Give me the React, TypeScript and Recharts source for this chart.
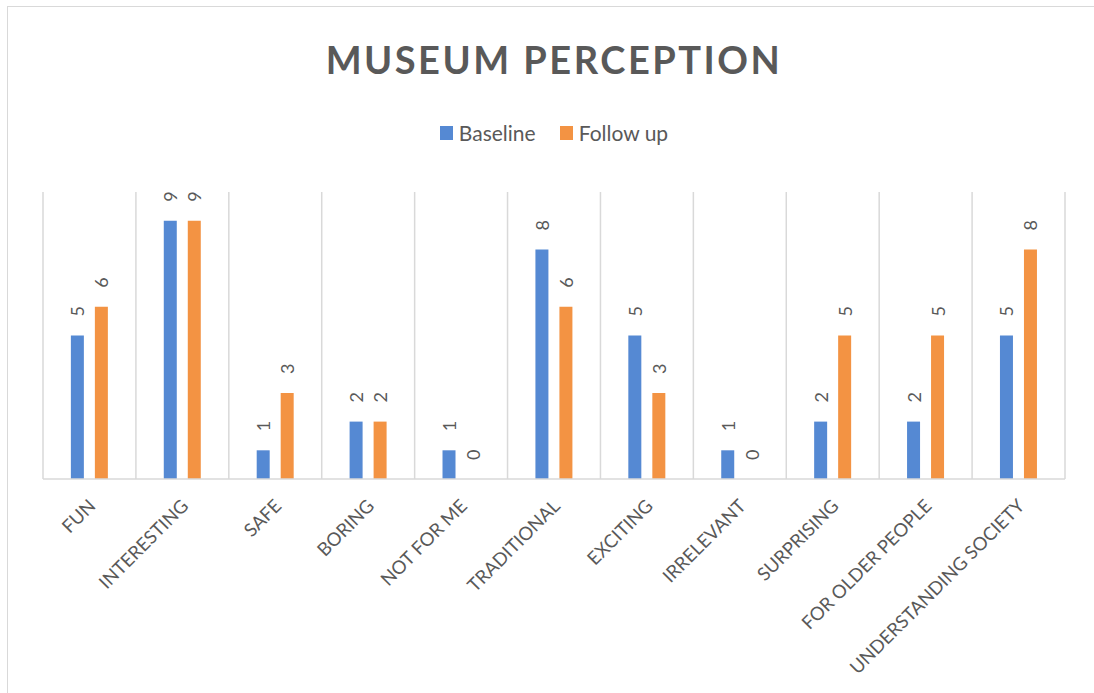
import React from "react";
import { BarChart, Bar, XAxis, YAxis, CartesianGrid, Legend } from "recharts";

const categories = [
  "FUN",
  "INTERESTING",
  "SAFE",
  "BORING",
  "NOT FOR ME",
  "TRADITIONAL",
  "EXCITING",
  "IRRELEVANT",
  "SURPRISING",
  "FOR OLDER PEOPLE",
  "UNDERSTANDING SOCIETY",
];
const baseline = [5, 9, 1, 2, 1, 8, 5, 1, 2, 2, 5];
const followUp = [6, 9, 3, 2, 0, 6, 3, 0, 5, 5, 8];

const data = categories.map((c, i) => ({ name: c, baseline: baseline[i], followUp: followUp[i] }));

const BLUE = "#5589d3";
const ORANGE = "#f39343";
const TEXT = "#595959";
const FONT = "Lato, 'Open Sans', sans-serif";

const ValueLabel = (props: any) => {
  const { x, y, width, value } = props;
  const cx = Number(x) + Number(width) / 2;
  const cy = Number(y) - 19;
  return (
    <text
      x={cx}
      y={cy}
      transform={`rotate(-90, ${cx}, ${cy})`}
      textAnchor="start"
      dominantBaseline="central"
      fill={TEXT}
      fontSize={18}
      fontFamily={FONT}
    >
      {String(value)}
    </text>
  );
};

const CatTick = (props: any) => {
  const { x, y, payload } = props;
  return (
    <g transform={`translate(${x - 3},${y + 10})`}>
      <text
        x={0}
        y={0}
        transform="rotate(-45)"
        textAnchor="end"
        dominantBaseline="hanging"
        fill={TEXT}
        fontSize={18.5}
        fontFamily={FONT}
      >
        {payload.value}
      </text>
    </g>
  );
};

const LegendContent = () => (
  <div
    style={{
      display: "flex",
      justifyContent: "center",
      alignItems: "center",
      fontFamily: FONT,
      fontSize: 21,
      color: TEXT,
    }}
  >
    <span style={{ display: "inline-flex", alignItems: "center", marginRight: 24 }}>
      <span style={{ width: 13, height: 14, background: BLUE, display: "inline-block", marginRight: 6 }} />
      Baseline
    </span>
    <span style={{ display: "inline-flex", alignItems: "center" }}>
      <span style={{ width: 13, height: 14, background: ORANGE, display: "inline-block", marginRight: 6 }} />
      Follow up
    </span>
  </div>
);

const gridGenerator = ({ offset }: any) =>
  categories.concat([""]).map((_, i) => offset.left + (i * offset.width) / categories.length);

export default function App() {
  return (
    <div
      style={{
        position: "fixed",
        left: 0,
        top: 0,
        width: 1094,
        height: 693,
        overflow: "hidden",
        background: "#fff",
      }}
    >
      <div
        style={{
          position: "absolute",
          left: 7,
          top: 6,
          width: 1200,
          height: 800,
          border: "1.5px solid #d9d9d9",
        }}
      />
      <div
        style={{
          position: "absolute",
          left: 0,
          top: 36,
          width: 1108,
          textAlign: "center",
          fontFamily: FONT,
          fontWeight: 700,
          fontSize: 38,
          letterSpacing: 2.5,
          color: TEXT,
        }}
      >
        MUSEUM PERCEPTION
      </div>
      <div style={{ position: "absolute", left: 0, top: 0 }}>
        <BarChart
          width={1094}
          height={693}
          data={data}
          margin={{ top: 192, right: 29, bottom: 14, left: 43 }}
          barCategoryGap="30%"
          barGap={11}
        >
          <CartesianGrid
            horizontal={false}
            vertical={true}
            verticalCoordinatesGenerator={gridGenerator}
            stroke="#d9d9d9"
            strokeWidth={1.5}
          />
          <XAxis
            dataKey="name"
            type="category"
            interval={0}
            height={200}
            axisLine={{ stroke: "#d9d9d9", strokeWidth: 1.5 }}
            tickLine={false}
            tick={<CatTick />}
          />
          <YAxis domain={[0, 10]} hide />
          <Legend
            verticalAlign="middle"
            align="center"
            wrapperStyle={{ top: 120, left: 0, width: 1108 }}
            content={<LegendContent />}
          />
          <Bar
            dataKey="baseline"
            name="Baseline"
            fill={BLUE}
            minPointSize={0.01}
            isAnimationActive={false}
            label={<ValueLabel />}
          />
          <Bar
            dataKey="followUp"
            name="Follow up"
            fill={ORANGE}
            minPointSize={0.01}
            isAnimationActive={false}
            label={<ValueLabel />}
          />
        </BarChart>
      </div>
    </div>
  );
}
